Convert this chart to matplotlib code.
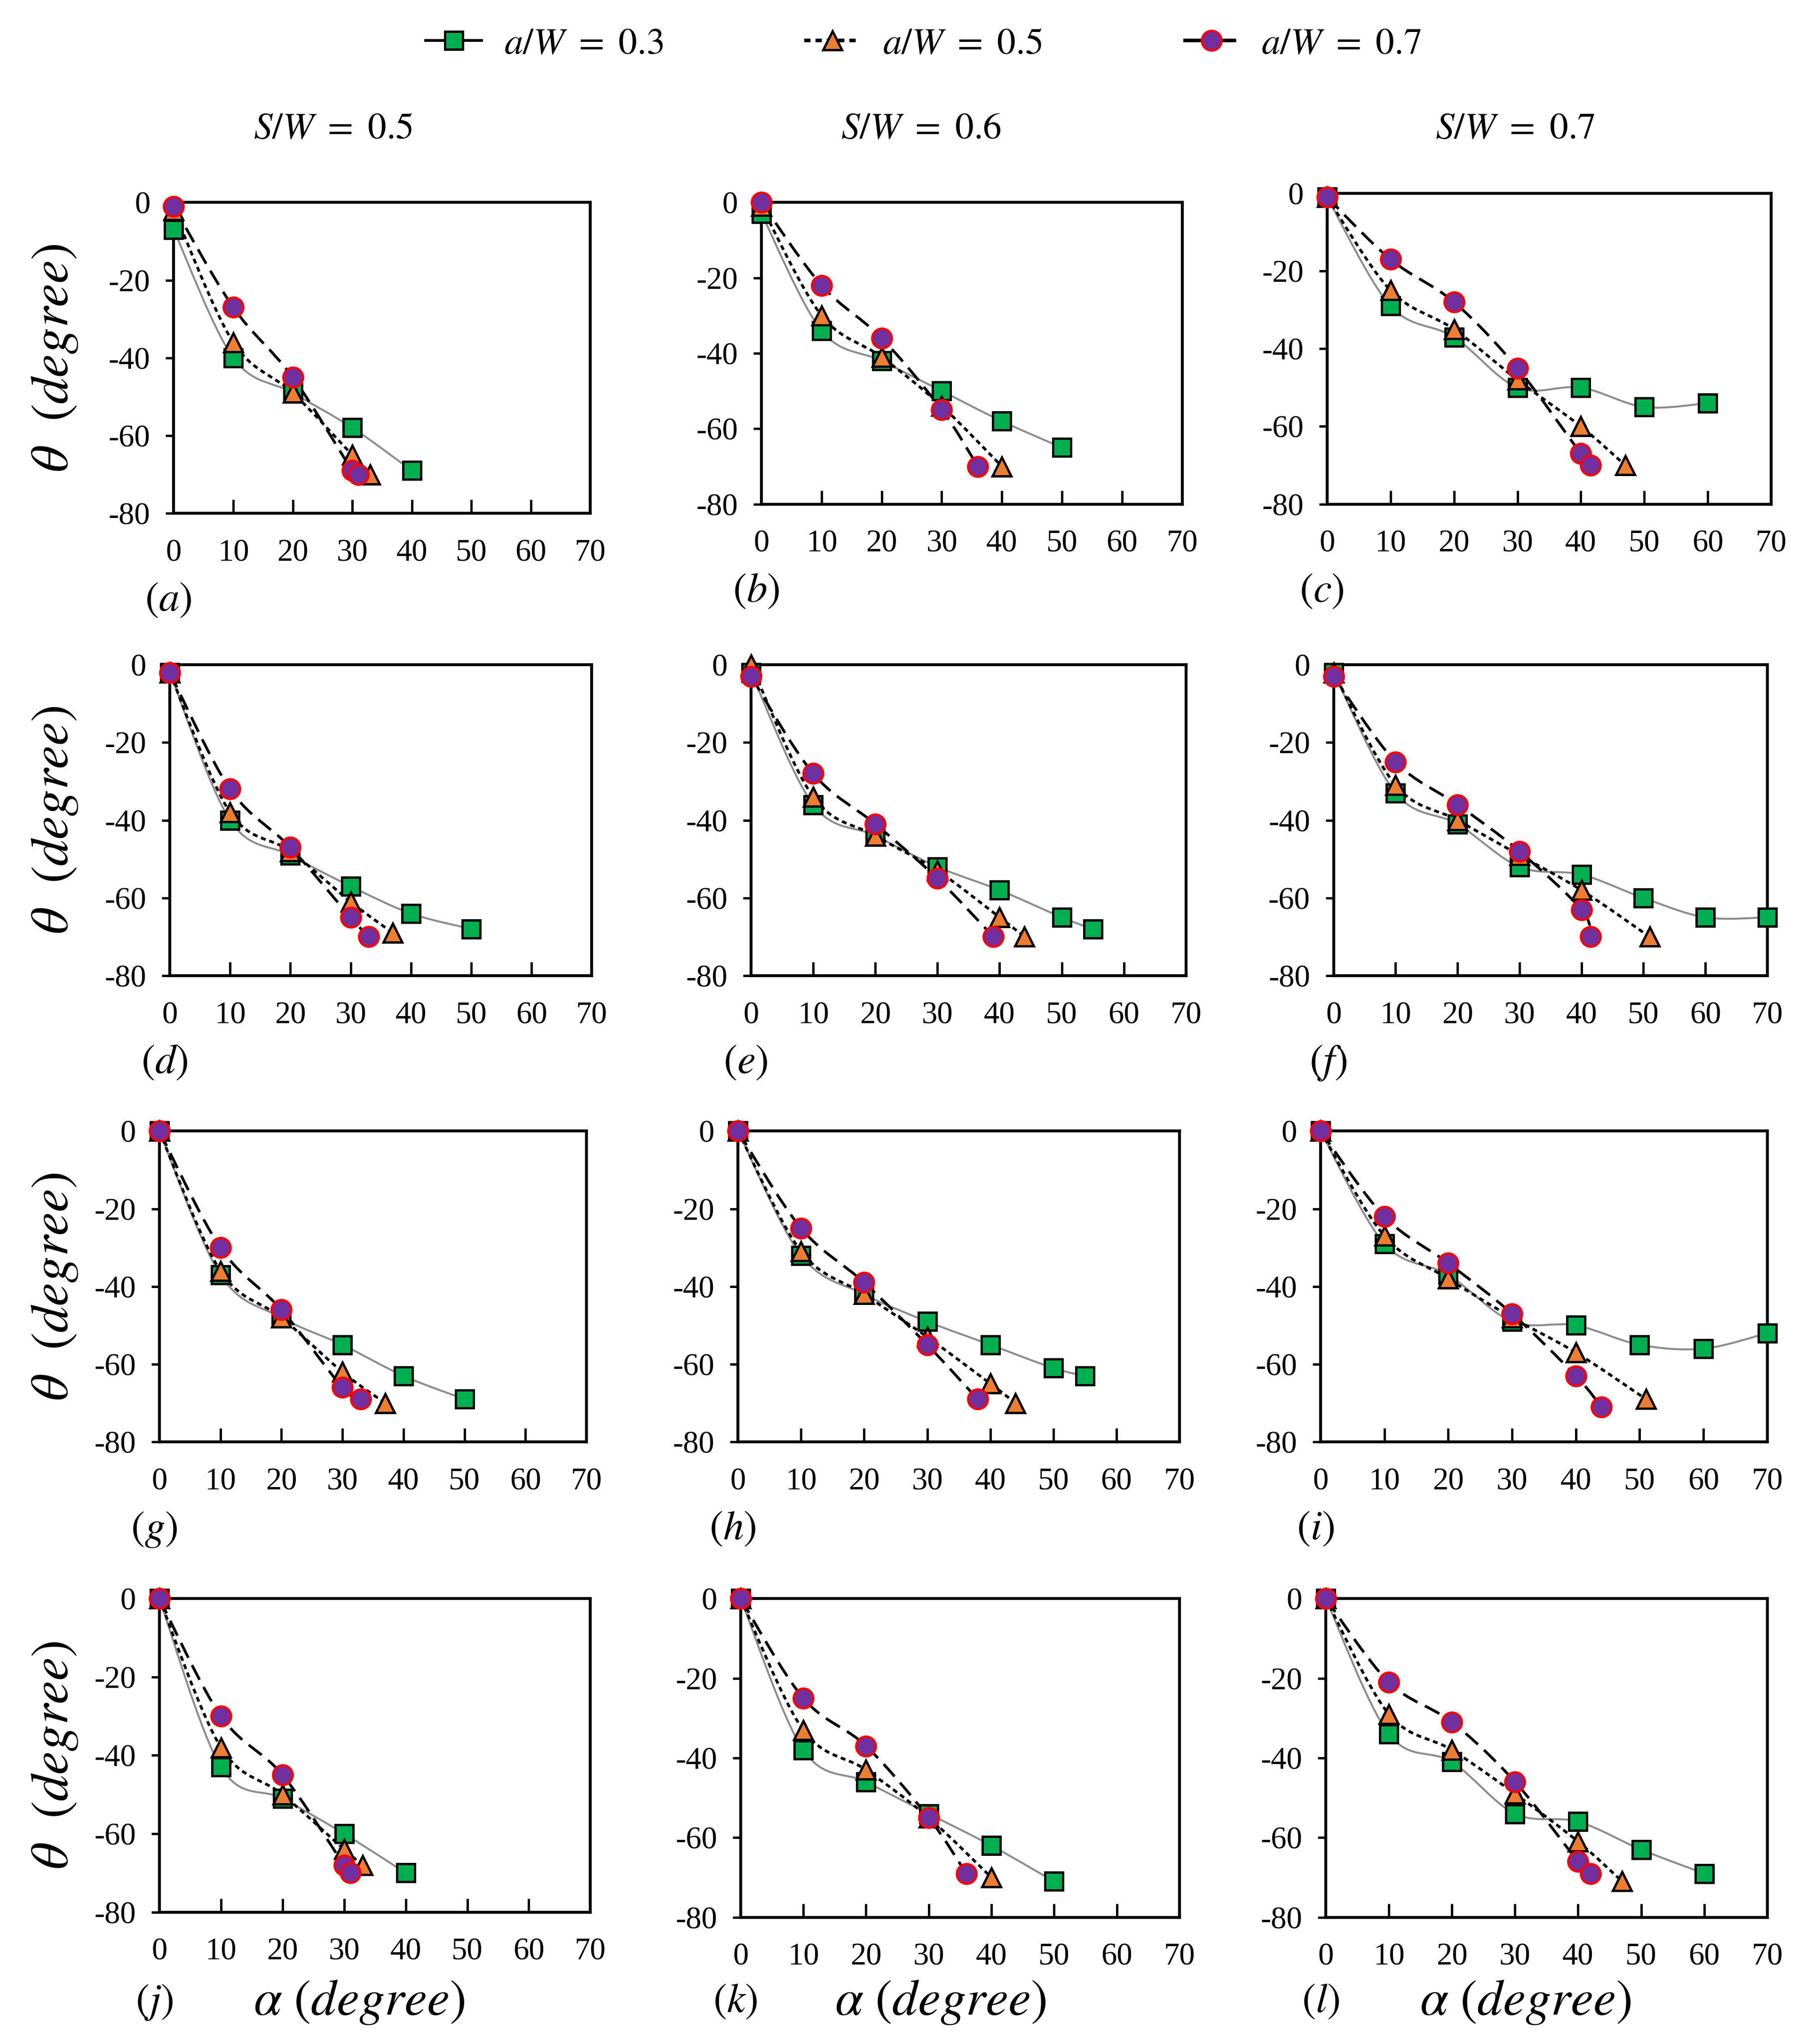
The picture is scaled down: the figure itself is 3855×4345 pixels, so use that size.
import numpy as np
import matplotlib
matplotlib.use('Agg')
import matplotlib.pyplot as plt
from matplotlib.path import Path
from matplotlib.patches import PathPatch
from matplotlib.lines import Line2D

plt.rcParams['font.family'] = 'serif'
plt.rcParams['font.serif'] = ['Liberation Serif', 'DejaVu Serif']
plt.rcParams['mathtext.fontset'] = 'stix'
plt.rcParams['axes.unicode_minus'] = False

# ------------------------------------------------------------------
# data: crack angle theta vs loading angle alpha, one block per panel
# suffix 03 / 05 / 07 -> a/W = 0.3 / 0.5 / 0.7
# ------------------------------------------------------------------
# (a) S/W = 0.5
A_X_03 = [0, 10, 20, 30, 40]
A_Y_03 = [-7, -40, -49, -58, -69]
A_X_05 = [0, 10, 20, 30, 33]
A_Y_05 = [-2, -36, -49, -65, -70]
A_X_07 = [0, 10, 20, 30, 31]
A_Y_07 = [-1, -27, -45, -69, -70]

# (b) S/W = 0.6
B_X_03 = [0, 10, 20, 30, 40, 50]
B_Y_03 = [-3, -34, -42, -50, -58, -65]
B_X_05 = [0, 10, 20, 30, 40]
B_Y_05 = [-1, -30, -41, -54, -70]
B_X_07 = [0, 10, 20, 30, 36]
B_Y_07 = [0, -22, -36, -55, -70]

# (c) S/W = 0.7
C_X_03 = [0, 10, 20, 30, 40, 50, 60]
C_Y_03 = [-1, -29, -37, -50, -50, -55, -54]
C_X_05 = [0, 10, 20, 30, 40, 47]
C_Y_05 = [-1, -25, -35, -48, -60, -70]
C_X_07 = [0, 10, 20, 30, 40, 41.5]
C_Y_07 = [-1, -17, -28, -45, -67, -70]

# (d)
D_X_03 = [0, 10, 20, 30, 40, 50]
D_Y_03 = [-2, -40, -49, -57, -64, -68]
D_X_05 = [0, 10, 20, 30, 37]
D_Y_05 = [-2, -38, -48, -61, -69]
D_X_07 = [0, 10, 20, 30, 33]
D_Y_07 = [-2, -32, -47, -65, -70]

# (e)
E_X_03 = [0, 10, 20, 30, 40, 50, 55]
E_Y_03 = [-2, -36, -44, -52, -58, -65, -68]
E_X_05 = [0, 10, 20, 30, 40, 44]
E_Y_05 = [0, -34, -44, -53, -65, -70]
E_X_07 = [0, 10, 20, 30, 39]
E_Y_07 = [-3, -28, -41, -55, -70]

# (f)
F_X_03 = [0, 10, 20, 30, 40, 50, 60, 70]
F_Y_03 = [-2, -33, -41, -52, -54, -60, -65, -65]
F_X_05 = [0, 10, 20, 30, 40, 51]
F_Y_05 = [-2, -31, -40, -49, -58, -70]
F_X_07 = [0, 10, 20, 30, 40, 41.5]
F_Y_07 = [-3, -25, -36, -48, -63, -70]

# (g)
G_X_03 = [0, 10, 20, 30, 40, 50]
G_Y_03 = [0, -37, -48, -55, -63, -69]
G_X_05 = [0, 10, 20, 30, 37]
G_Y_05 = [0, -36, -48, -62, -70]
G_X_07 = [0, 10, 20, 30, 33]
G_Y_07 = [0, -30, -46, -66, -69]

# (h)
H_X_03 = [0, 10, 20, 30, 40, 50, 55]
H_Y_03 = [0, -32, -42, -49, -55, -61, -63]
H_X_05 = [0, 10, 20, 30, 40, 44]
H_Y_05 = [0, -31, -42, -53, -65, -70]
H_X_07 = [0, 10, 20, 30, 38]
H_Y_07 = [0, -25, -39, -55, -69]

# (i)
I_X_03 = [0, 10, 20, 30, 40, 50, 60, 70]
I_Y_03 = [0, -29, -37, -49, -50, -55, -56, -52]
I_X_05 = [0, 10, 20, 30, 40, 51]
I_Y_05 = [0, -27, -38, -48, -57, -69]
I_X_07 = [0, 10, 20, 30, 40, 44]
I_Y_07 = [0, -22, -34, -47, -63, -71]

# (j)
J_X_03 = [0, 10, 20, 30, 40]
J_Y_03 = [0, -43, -51, -60, -70]
J_X_05 = [0, 10, 20, 30, 33]
J_Y_05 = [0, -38, -50, -64, -68]
J_X_07 = [0, 10, 20, 30, 31]
J_Y_07 = [0, -30, -45, -68, -70]

# (k)
K_X_03 = [0, 10, 20, 30, 40, 50]
K_Y_03 = [0, -38, -46, -54, -62, -71]
K_X_05 = [0, 10, 20, 30, 40]
K_Y_05 = [0, -33, -43, -55, -70]
K_X_07 = [0, 10, 20, 30, 36]
K_Y_07 = [0, -25, -37, -55, -69]

# (l)
L_X_03 = [0, 10, 20, 30, 40, 50, 60]
L_Y_03 = [0, -34, -41, -54, -56, -63, -69]
L_X_05 = [0, 10, 20, 30, 40, 47]
L_Y_05 = [0, -29, -38, -49, -61, -71]
L_X_07 = [0, 10, 20, 30, 40, 42]
L_Y_07 = [0, -21, -31, -46, -66, -69]

PANEL_LETTERS = ['a', 'b', 'c', 'd', 'e', 'f', 'g', 'h', 'i', 'j', 'k', 'l']
PANEL_SERIES = [
    [(A_X_03, A_Y_03), (A_X_05, A_Y_05), (A_X_07, A_Y_07)],
    [(B_X_03, B_Y_03), (B_X_05, B_Y_05), (B_X_07, B_Y_07)],
    [(C_X_03, C_Y_03), (C_X_05, C_Y_05), (C_X_07, C_Y_07)],
    [(D_X_03, D_Y_03), (D_X_05, D_Y_05), (D_X_07, D_Y_07)],
    [(E_X_03, E_Y_03), (E_X_05, E_Y_05), (E_X_07, E_Y_07)],
    [(F_X_03, F_Y_03), (F_X_05, F_Y_05), (F_X_07, F_Y_07)],
    [(G_X_03, G_Y_03), (G_X_05, G_Y_05), (G_X_07, G_Y_07)],
    [(H_X_03, H_Y_03), (H_X_05, H_Y_05), (H_X_07, H_Y_07)],
    [(I_X_03, I_Y_03), (I_X_05, I_Y_05), (I_X_07, I_Y_07)],
    [(J_X_03, J_Y_03), (J_X_05, J_Y_05), (J_X_07, J_Y_07)],
    [(K_X_03, K_Y_03), (K_X_05, K_Y_05), (K_X_07, K_Y_07)],
    [(L_X_03, L_Y_03), (L_X_05, L_Y_05), (L_X_07, L_Y_07)],
]
SERIES_LABELS = [r'$a/W\ =\ 0.3$', r'$a/W\ =\ 0.5$', r'$a/W\ =\ 0.7$']
COLUMN_TITLES = [r'$S/W\ =\ 0.5$', r'$S/W\ =\ 0.6$', r'$S/W\ =\ 0.7$']
X_TICKS = [0, 10, 20, 30, 40, 50, 60, 70]
Y_TICKS = [-80, -60, -40, -20, 0]

# ------------------------------------------------------------------
# styles
# ------------------------------------------------------------------
STYLES = [
    dict(marker='s', mfc='#00B050', mec='black', ms=9, line='#8C8C8C', lw=1.0, ls='-'),
    dict(marker='^', mfc='#ED7D31', mec='black', ms=9.5, line='black', lw=1.4, ls=(0, (1.8, 1.4))),
    dict(marker='o', mfc='#7030A0', mec='#FF0000', ms=10, line='black', lw=1.4, ls=(0, (6, 3))),
]

# panel rectangles measured on the reference (display px of a 1388 x 1565 view)
W_REF, H_REF = 1388.0, 1565.0
BOXES = [
    (133, 155, 452, 393), (583, 155, 905, 386), (1016, 148, 1356, 386),
    (130, 509, 453, 747), (575, 509, 908, 747), (1021, 509, 1353, 747),
    (122, 866, 449, 1104), (565, 866, 903, 1104), (1011, 866, 1353, 1104),
    (122, 1224, 452, 1464), (567, 1224, 903, 1468), (1015, 1224, 1353, 1468),
]


def smooth_path(x, y):
    # Excel-like smoothed line (Catmull-Rom as cubic Bezier)
    pts = np.column_stack([x, y]).astype(float)
    n = len(pts)
    verts = [pts[0]]
    codes = [Path.MOVETO]
    for i in range(n - 1):
        p0 = pts[max(i - 1, 0)]
        p1 = pts[i]
        p2 = pts[i + 1]
        p3 = pts[min(i + 2, n - 1)]
        verts += [p1 + (p2 - p0) / 6.0, p2 - (p3 - p1) / 6.0, p2]
        codes += [Path.CURVE4] * 3
    return Path(verts, codes)


fig = plt.figure(figsize=(3855 / 300, 4345 / 300), dpi=300)

for k, (letter, series) in enumerate(zip(PANEL_LETTERS, PANEL_SERIES)):
    x0, y0, x1, y1 = BOXES[k]
    rect = [x0 / W_REF, 1 - y1 / H_REF, (x1 - x0) / W_REF, (y1 - y0) / H_REF]
    ax = fig.add_axes(rect)

    for j, (xs, ys) in enumerate(series):
        st = STYLES[j]
        patch = PathPatch(smooth_path(xs, ys), fill=False, edgecolor=st['line'],
                          lw=st['lw'], linestyle=st['ls'], zorder=2 + j * 0.1,
                          transform=ax.transData)
        ax.add_patch(patch)
    for j, (xs, ys) in enumerate(series):
        st = STYLES[j]
        ax.plot(xs, ys, linestyle='none', marker=st['marker'], markersize=st['ms'],
                markerfacecolor=st['mfc'], markeredgecolor=st['mec'],
                markeredgewidth=1.2, zorder=4 + j, clip_on=False)

    ax.set_xlim(0, 70)
    ax.set_ylim(-80, 0)
    ax.set_xticks(X_TICKS)
    ax.set_yticks(Y_TICKS)
    ax.tick_params(axis='x', direction='in', length=7, width=1.2, pad=13, labelsize=16)
    ax.tick_params(axis='y', direction='out', length=4, width=1.2, pad=8, labelsize=16)
    for sp in ax.spines.values():
        sp.set_linewidth(1.5)

    # panel letter below the axes
    if k >= 9:
        ty = 1 - 1533 / H_REF
    else:
        ty = rect[1] - 67 / H_REF
    fig.text(rect[0] - 4 / W_REF, ty, r'$(%s)$' % letter, ha='center', va='center', fontsize=21)

    if k % 3 == 0:
        yc = rect[1] + rect[3] / 2
        fig.text(42 / W_REF, yc, r'$\theta\ \ (degree)$', rotation=90,
                 ha='center', va='center', fontsize=27)
    if k >= 9:
        fig.text(rect[0] + 153 / W_REF, 1 - 1533 / H_REF, r'$\alpha\ (degree)$',
                 ha='center', va='center', fontsize=26)

# column titles
for xc, title in zip([255, 705, 1160], COLUMN_TITLES):
    fig.text(xc / W_REF, 1 - 99 / H_REF, title, ha='center', va='center', fontsize=19)

# legend
handles = []
for st, lab in zip(STYLES, SERIES_LABELS):
    handles.append(Line2D([], [], color='black', lw=st['lw'] + 0.4, linestyle=st['ls'],
                          marker=st['marker'], markersize=st['ms'],
                          markerfacecolor=st['mfc'], markeredgecolor=st['mec'],
                          markeredgewidth=1.2, label=lab))
fig.legend(handles=handles, loc='center', bbox_to_anchor=(707 / W_REF, 1 - 34 / H_REF),
           ncol=3, frameon=False, fontsize=19, handlelength=1.5, handletextpad=0.6,
           columnspacing=3.8)

fig.savefig('out.png', dpi=300)
